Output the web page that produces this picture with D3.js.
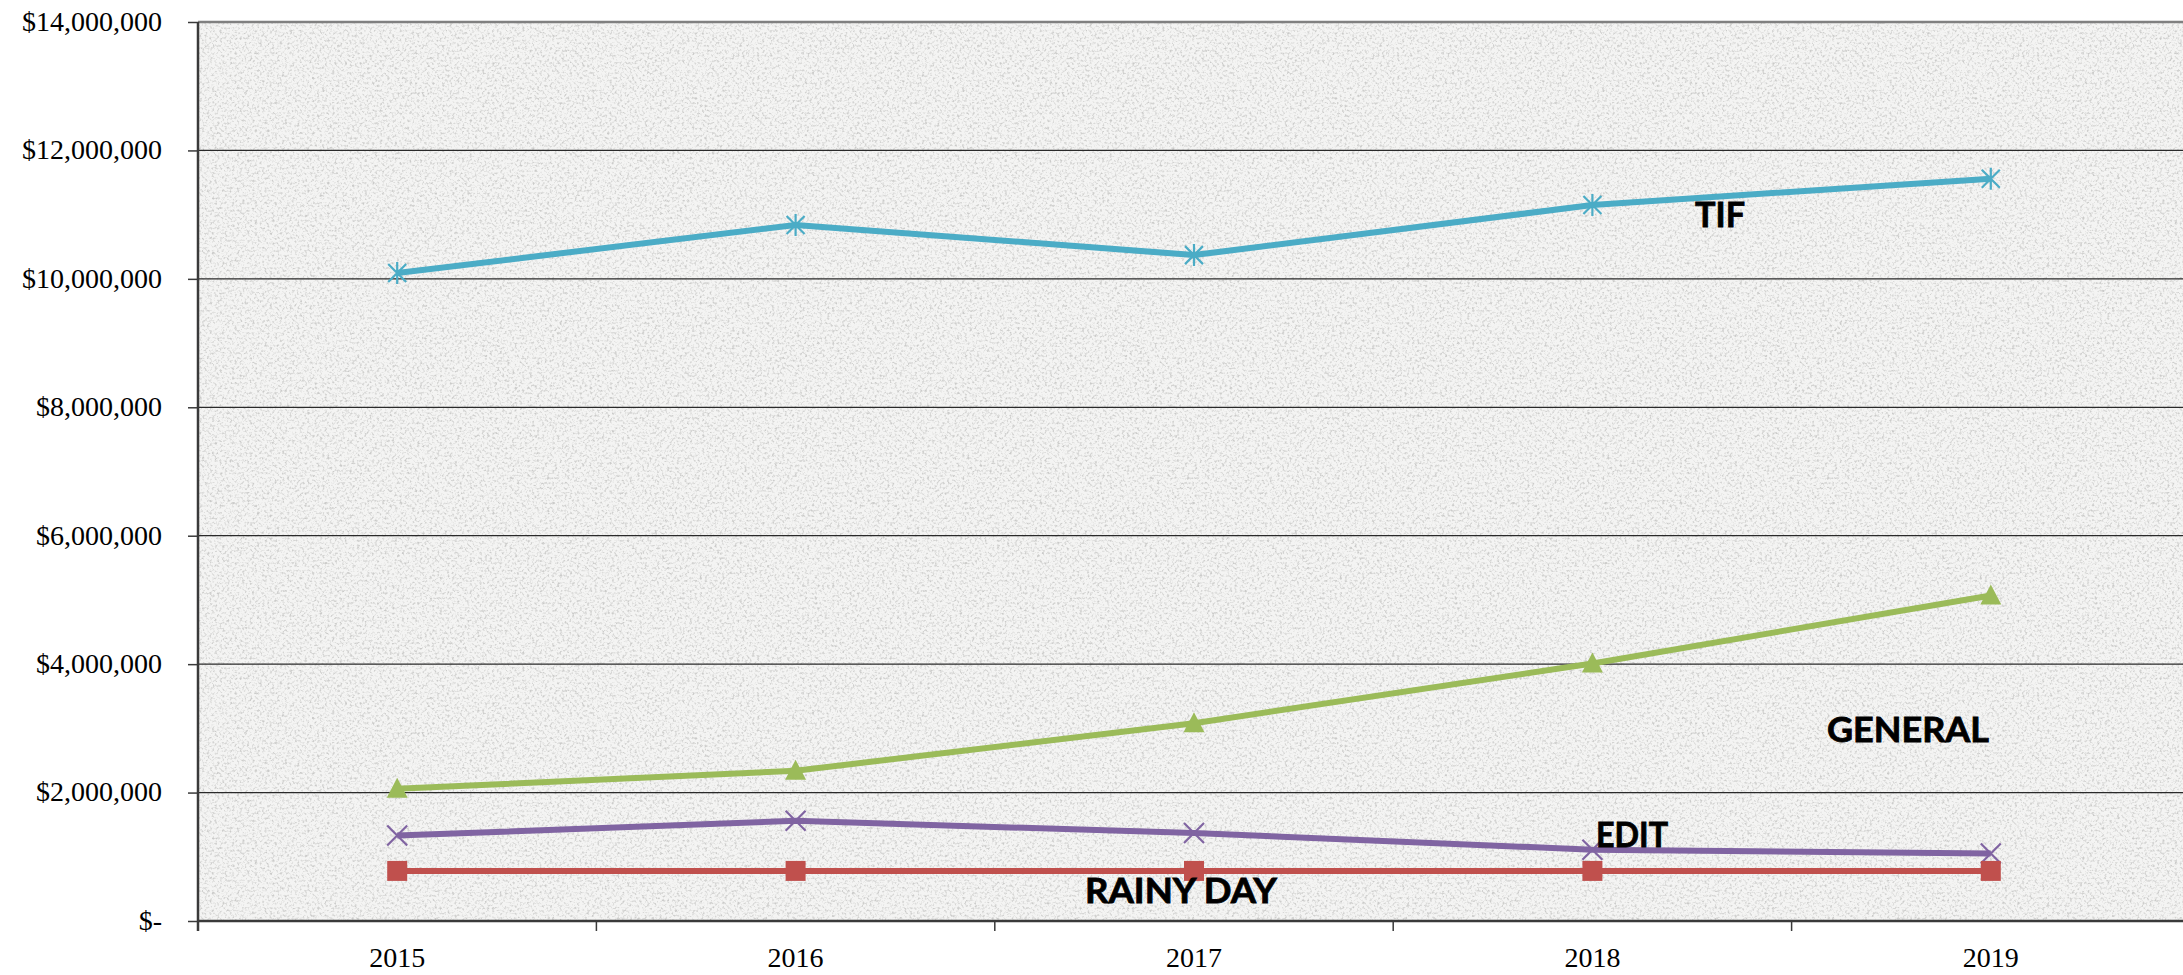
<!DOCTYPE html>
<html>
<head>
<meta charset="utf-8">
<script src="https://cdn.jsdelivr.net/npm/d3@7"></script>
<style>
  html, body { margin: 0; padding: 0; background: #fff; }
  svg { display: block; }
</style>
</head>
<body>
<svg id="chart" width="2183" height="975"></svg>
<script>
// データ
const years = ["2015", "2016", "2017", "2018", "2019"];
const tifValues = [10090000, 10840000, 10370000, 11150000, 11560000];
const generalValues = [2060000, 2340000, 3080000, 4010000, 5070000];
const editValues = [1330000, 1560000, 1370000, 1110000, 1050000];
const rainyDayValues = [780000, 780000, 780000, 780000, 780000];
const yTicks = [0, 2000000, 4000000, 6000000, 8000000, 10000000, 12000000, 14000000];

const seriesList = [
    { name: "TIF", values: tifValues, color: "#4BACC6", marker: "star" },
    { name: "GENERAL", values: generalValues, color: "#9BBB59", marker: "triangle" },
    { name: "EDIT", values: editValues, color: "#8064A2", marker: "x" },
    { name: "RAINY DAY", values: rainyDayValues, color: "#C0504D", marker: "square" }
];

const plot = { left: 198, right: 2190, top: 22, bottom: 921 };

const svg = d3.select("#chart");

// 背景のざらざらした質感
const defs = svg.append("defs");
const grain = defs.append("filter").attr("id", "grain")
    .attr("x", 0).attr("y", 0).attr("width", "100%").attr("height", "100%");
grain.append("feTurbulence")
    .attr("type", "fractalNoise").attr("baseFrequency", 0.4)
    .attr("numOctaves", 3).attr("seed", 7).attr("result", "noise");
grain.append("feColorMatrix").attr("in", "noise").attr("type", "matrix")
    .attr("values", "0 0 0 0 0.6  0 0 0 0 0.6  0 0 0 0 0.59  3.0 0 0 0 -1.45");
defs.append("clipPath").attr("id", "plotClip").append("rect")
    .attr("x", plot.left).attr("y", plot.top - 4)
    .attr("width", plot.right - plot.left).attr("height", plot.bottom - plot.top + 8);

const x = d3.scaleBand().domain(years).range([plot.left, plot.right]).padding(0);
const y = d3.scaleLinear().domain([0, 14000000]).range([plot.bottom, plot.top]);
const cx = (d) => x(d) + x.bandwidth() / 2;

svg.append("rect")
    .attr("x", plot.left).attr("y", plot.top)
    .attr("width", plot.right - plot.left).attr("height", plot.bottom - plot.top)
    .attr("fill", "#f4f4f3");
svg.append("rect")
    .attr("x", plot.left).attr("y", plot.top)
    .attr("width", plot.right - plot.left).attr("height", plot.bottom - plot.top)
    .attr("filter", "url(#grain)");

// グリッド線
svg.append("g")
    .selectAll("line")
    .data(yTicks.filter((d) => d > 0))
    .enter()
    .append("line")
    .attr("x1", plot.left).attr("x2", plot.right)
    .attr("y1", (d) => y(d)).attr("y2", (d) => y(d))
    .attr("stroke", (d) => (d === 14000000 ? "#808080" : "#2a2a2a"))
    .attr("stroke-width", (d) => (d === 14000000 ? 2.5 : 1.3));

// Y軸
const yAxis = svg.append("g")
    .attr("transform", `translate(${plot.left},0)`)
    .call(d3.axisLeft(y).tickValues(yTicks).tickSize(10).tickPadding(26)
        .tickFormat((d) => (d === 0 ? "$-" : "$" + d3.format(",")(d))));
yAxis.select(".domain").attr("stroke", "#3a3a3a").attr("stroke-width", 2.5)
    .attr("d", `M0,${plot.top}V${plot.bottom + 10}`);
yAxis.selectAll(".tick line").attr("stroke", "#3a3a3a").attr("stroke-width", 1.5);
yAxis.selectAll(".tick text")
    .attr("font-family", "'Book Antiqua', 'Palatino Linotype', 'Liberation Serif', serif")
    .attr("font-size", 28).attr("fill", "#000").attr("dy", "0.3em");

// X軸
const xAxis = svg.append("g")
    .attr("transform", `translate(0,${plot.bottom})`);
xAxis.append("line")
    .attr("x1", plot.left).attr("x2", plot.right)
    .attr("stroke", "#3a3a3a").attr("stroke-width", 2.5);
xAxis.selectAll("line.tk")
    .data(years)
    .enter()
    .append("line")
    .attr("class", "tk")
    .attr("x1", (d) => x(d) + x.bandwidth()).attr("x2", (d) => x(d) + x.bandwidth())
    .attr("y1", 0).attr("y2", 10)
    .attr("stroke", "#3a3a3a").attr("stroke-width", 1.5);
xAxis.selectAll("text")
    .data(years)
    .enter()
    .append("text")
    .attr("x", cx).attr("y", 46)
    .attr("text-anchor", "middle")
    .attr("font-family", "'Book Antiqua', 'Palatino Linotype', 'Liberation Serif', serif")
    .attr("font-size", 28).attr("fill", "#000")
    .text((d) => d);

// 折れ線
const line = d3.line()
    .x((d, i) => cx(years[i]))
    .y((d) => y(d));

const lines = svg.append("g").attr("clip-path", "url(#plotClip)");
lines.selectAll("path.series")
    .data(seriesList)
    .enter()
    .append("path")
    .attr("class", "series")
    .attr("d", (s) => line(s.values))
    .attr("fill", "none")
    .attr("stroke", (s) => s.color)
    .attr("stroke-width", 6)
    .attr("stroke-linejoin", "round");

// マーカー
const markerPaths = {
    star: "M-9,-9L9,9M-9,9L9,-9M0,-11L0,11",
    x: "M-10,-10L10,10M-10,10L10,-10",
    triangle: "M0,-11L10.5,9L-10.5,9Z",
    square: "M-10,-10H10V10H-10Z"
};
seriesList.forEach((s) => {
    const filled = s.marker === "triangle" || s.marker === "square";
    lines.append("g")
        .selectAll("path")
        .data(s.values)
        .enter()
        .append("path")
        .attr("transform", (d, i) => `translate(${cx(years[i])},${y(d)})`)
        .attr("d", markerPaths[s.marker])
        .attr("fill", filled ? s.color : "none")
        .attr("stroke", s.color)
        .attr("stroke-width", filled ? 0 : 2.2);
});

// ラベル
const labels = [
    { text: "TIF", x: 1695, y: 227, w: 50 },
    { text: "GENERAL", x: 1827, y: 742, w: 162 },
    { text: "EDIT", x: 1596, y: 847, w: 72 },
    { text: "RAINY DAY", x: 1085, y: 903, w: 192 }
];
svg.append("g")
    .selectAll("text")
    .data(labels)
    .enter()
    .append("text")
    .attr("x", (d) => d.x).attr("y", (d) => d.y)
    .attr("textLength", (d) => d.w)
    .attr("lengthAdjust", "spacingAndGlyphs")
    .attr("font-family", "Lato, 'Open Sans', sans-serif")
    .attr("font-weight", "bold")
    .attr("font-size", 35)
    .attr("fill", "#000")
    .attr("stroke", "#000")
    .attr("stroke-width", 0.8)
    .text((d) => d.text);
</script>
</body>
</html>
